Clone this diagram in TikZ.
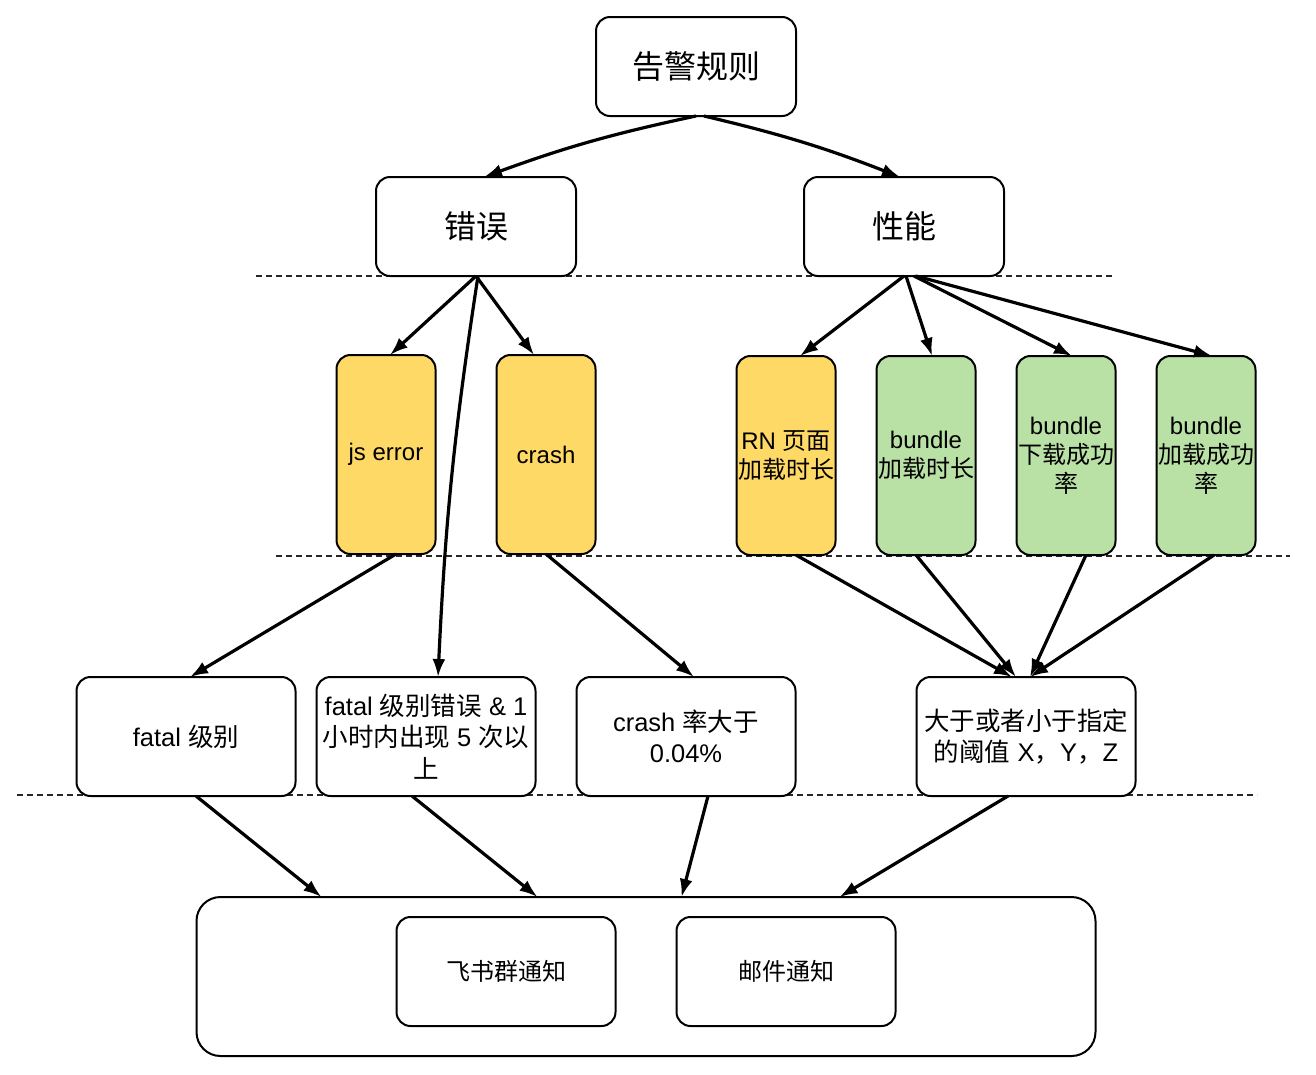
\documentclass[tikz,border=0pt]{standalone}
\usepackage{fontspec}
\setmainfont{Liberation Sans}
\newfontfamily\lat{Liberation Sans}
\newfontfamily\cjk{Noto Sans CJK SC}
\usepackage{xcolor}
\usepackage{tikz}
\usetikzlibrary{arrows.meta, positioning}

% switch to the CJK font for Chinese characters
\XeTeXinterchartokenstate=1
\newXeTeXintercharclass\CJKcls
\newcount\cjkcode
\cjkcode="4E00
\loop\ifnum\cjkcode<"A000 \XeTeXcharclass\cjkcode=\CJKcls \advance\cjkcode by 1 \repeat
\cjkcode="3000
\loop\ifnum\cjkcode<"3040 \XeTeXcharclass\cjkcode=\CJKcls \advance\cjkcode by 1 \repeat
\cjkcode="FF00
\loop\ifnum\cjkcode<"FFF0 \XeTeXcharclass\cjkcode=\CJKcls \advance\cjkcode by 1 \repeat
\XeTeXinterchartoks 0 \CJKcls = {\cjk}
\XeTeXinterchartoks 4095 \CJKcls = {\cjk}
\XeTeXinterchartoks \CJKcls 0 = {\lat}
\XeTeXinterchartoks \CJKcls 4095 = {\lat}

\definecolor{warnfill}{HTML}{FFD966}
\definecolor{okfill}{HTML}{B9E0A5}

\begin{document}
\begin{tikzpicture}[
  x=1pt, y=1pt,
  >={Latex[length=18pt,width=13pt]},
  font=\fontsize{24}{29}\selectfont,
  block/.style={
    rectangle, rounded corners=14pt,
    draw, line width=2pt, fill=white, align=center,
    inner sep=1pt, outer sep=0pt,
  },
  top/.style={block, minimum width=200pt, minimum height=99pt, font=\fontsize{32}{38}\selectfont},
  metric/.style={block, minimum width=99pt, minimum height=199pt},
  warn/.style={metric, fill=warnfill},
  ok/.style={metric, fill=okfill},
  rule/.style={block, minimum width=219pt, minimum height=119pt, font=\fontsize{25.5}{31.5}\selectfont},
  notify/.style={block, minimum width=219pt, minimum height=109pt},
  group/.style={block, rounded corners=24pt, minimum width=899pt, minimum height=159pt},
  sep/.style={line width=1.8pt, dash pattern=on 6pt off 4pt, black!85},
  link/.style={->, line width=3.2pt},
]
\fill[white] (0,0) rectangle (1316,-1074);
\useasboundingbox (0,0) rectangle (1316,-1074);

% --- Separators ---
\draw[sep] (256,-276) -- (1115,-276);
\draw[sep] (276,-556) -- (1290,-556);
\draw[sep] (17,-795) -- (1257,-795);

% --- Rules ---
\node[top] (ROOT) at (696,-66.5) {告警规则};

% --- Categories ---
\node[top, below=61pt of ROOT, xshift=-220pt] (ERR) {错误};
\node[top, below=61pt of ROOT, xshift=208pt] (PERF) {性能};

% --- Metrics ---
\node[warn, below=79pt of ERR, xshift=-90pt] (JS) {js error};
\node[warn, right=61pt of JS] (CRASH) {crash};
\node[warn, below=80pt of PERF, xshift=-118pt] (RN) {RN 页面\\加载时长};
\node[ok, right=41pt of RN] (BLT) {bundle\\加载时长};
\node[ok, right=41pt of BLT] (BDR) {bundle\\下载成功\\率};
\node[ok, right=41pt of BDR] (BLR) {bundle\\加载成功\\率};

% --- Conditions ---
\node[rule, below=123pt of JS, xshift=-200pt] (FATAL) {fatal 级别};
\node[rule, right=21pt of FATAL] (FREQ) {fatal 级别错误 \& 1\\小时内出现 5 次以\\上};
\node[rule, right=41pt of FREQ] (RATE) {crash 率大于\\0.04\%};
\node[rule, right=121pt of RATE] (THR) {大于或者小于指定\\的阈值 X，Y，Z};

% --- Notification ---
\node[group, below=101pt of FREQ, xshift=220pt] (NOTE) {};
\node[notify, below right=20pt and 200pt of NOTE.north west] (FS) {飞书群通知};
\node[notify, right=61pt of FS] (MAIL) {邮件通知};

% --- Arrows ---
\draw[link] (ROOT.south) to[bend right=4] ([xshift=8pt]ERR.north);
\draw[link] ([xshift=8pt]ROOT.south) to[bend left=4] ([xshift=-4pt]PERF.north);

\draw[link] (ERR.south) -- ([xshift=4pt]JS.north);
\draw[link] (ERR.south) -- ([xshift=-12pt]CRASH.north);
\draw[link] ([xshift=2pt]ERR.south) to[bend right=3] ([xshift=12pt]FREQ.north);

\draw[link] (PERF.south) -- ([xshift=14pt]RN.north);
\draw[link] ([xshift=2pt]PERF.south) -- ([xshift=6pt]BLT.north);
\draw[link] ([xshift=10pt]PERF.south) -- ([xshift=6pt]BDR.north);
\draw[link] ([xshift=12pt]PERF.south) -- ([xshift=6pt]BLR.north);

\draw[link] ([xshift=10pt]JS.south) -- ([xshift=4pt]FATAL.north);
\draw[link] (CRASH.south) -- ([xshift=8pt]RATE.north);

\draw[link] ([xshift=10pt]RN.south) -- ([xshift=-14pt]THR.north);
\draw[link] ([xshift=-10pt]BLT.south) -- ([xshift=-10pt]THR.north);
\draw[link] ([xshift=20pt]BDR.south) -- ([xshift=4pt]THR.north);
\draw[link] ([xshift=8pt]BLR.south) -- ([xshift=4pt]THR.north);

\draw[link] ([xshift=10pt]FATAL.south) -- ([xshift=125pt]NOTE.north west);
\draw[link] ([xshift=-14pt]FREQ.south) -- ([xshift=341pt]NOTE.north west);
\draw[link] ([xshift=22pt]RATE.south) -- ([xshift=485pt]NOTE.north west);
\draw[link] ([xshift=-18pt]THR.south) -- ([xshift=643pt]NOTE.north west);

\end{tikzpicture}
\end{document}
